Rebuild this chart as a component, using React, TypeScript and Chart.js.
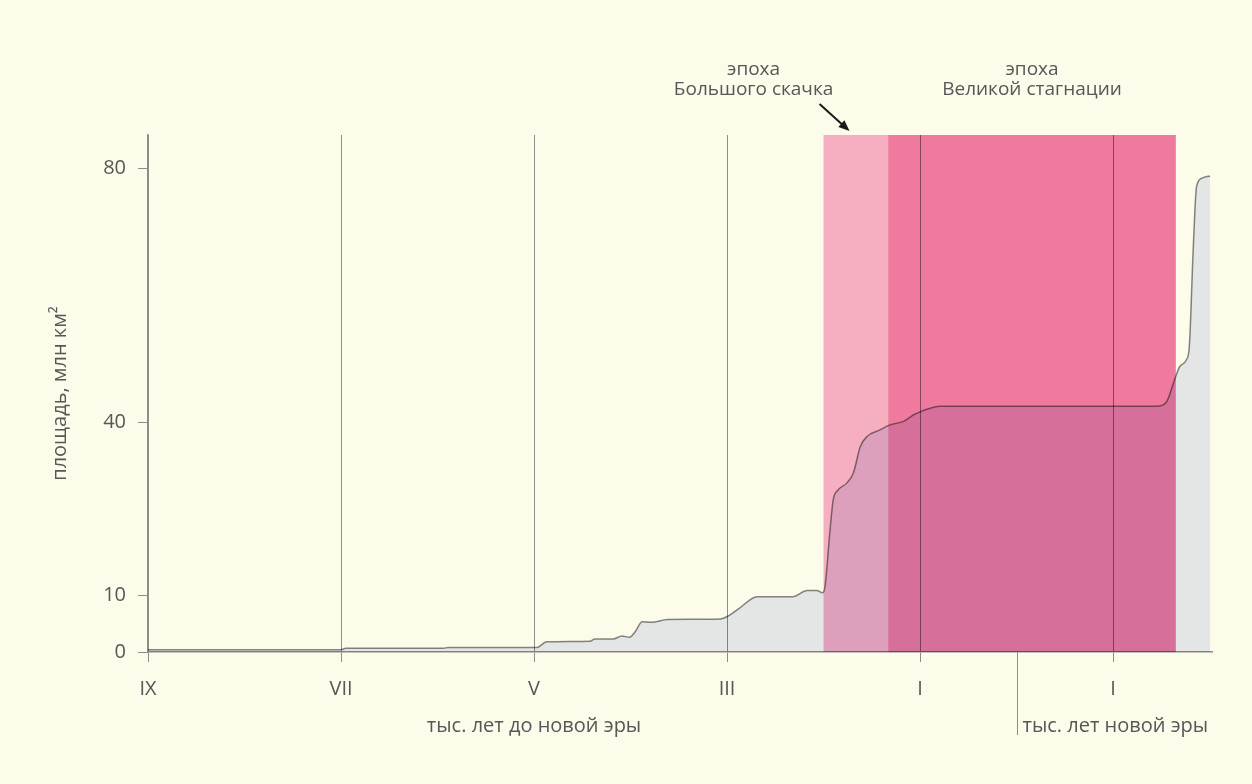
import React, { useEffect, useRef } from 'react';
import { Chart, registerables, LinearScale } from 'chart.js';

// ---- data ----
const tickYears = [-9000, -7000, -5000, -3000, -1000, 1000];
const tickLabels = ['IX', 'VII', 'V', 'III', 'I', 'I'];
const yTicks = [0, 10, 40, 80];

const years = [
  -9000, -7000, -6950, -6880, -5940, -5890, -4970, -4870, -4420, -4370, -4180,
  -4090, -4010, -3950, -3880, -3780, -3620, -3070, -2990, -2870, -2690, -2320,
  -2170, -2070, -2010, -1985, -1930, -1900, -1850, -1760, -1690, -1620, -1550,
  -1420, -1310, -1170, -1070, -1000, -930, -790, 1450, 1555, 1625, 1690, 1760,
  1790, 1830, 1865, 1920, 1985, 2005,
];
const areas = [
  0.4, 0.4, 0.65, 0.65, 0.65, 0.8, 0.8, 1.8, 1.9, 2.3, 2.3,
  2.8, 2.6, 3.6, 5.3, 5.2, 5.7, 5.8, 6.3, 7.7, 9.7, 9.7,
  10.8, 10.8, 10.4, 11.5, 21.8, 26.5, 28.2, 29.4, 31.2, 35.7, 37.5,
  38.6, 39.5, 40.1, 41.1, 41.6, 42.0, 42.5, 42.5, 43.2, 46.1, 48.7, 49.8,
  51.9, 67.1, 77.1, 78.4, 78.7, 78.7,
];

const epochStart = [-2000, -1330];
const epochEnd = [-1330, 1650];
const epochColors = ['rgb(248,178,210)', 'rgb(241,124,172)'];
const epochNames = [
  ['эпоха', 'Большого скачка'],
  ['эпоха', 'Великой стагнации'],
];
const eraDivider = 0;
const xTitles = ['тыс. лет до новой эры', 'тыс. лет новой эры'];
const yTitle = 'площадь, млн км²';

// ---- style ----
const BG = '#fdfbe9';
const GRID = '#8c8c88';
const TEXT = '#575757';
const FONT = "'Open Sans', sans-serif";
const Y_MAX = 85.2;
// piecewise vertical mapping of the original artwork: [value, fraction of height]
const Y_KNOTS: number[][] = [
  [0, 0],
  [10, 57 / 517],
  [40, 230 / 517],
  [80, 484 / 517],
  [Y_MAX, 1],
];

function interp(k: number[][], v: number, a: number, b: number) {
  let i = 0;
  while (i < k.length - 2 && v > k[i + 1][a]) i++;
  const p = k[i], q = k[i + 1];
  return p[b] + ((v - p[a]) * (q[b] - p[b])) / (q[a] - p[a]);
}

class PiecewiseScale extends LinearScale {
  static id = 'piecewise';
  static defaults = {};
  getPixelForValue(value: any) {
    if (value === null || value === undefined || isNaN(value)) return NaN;
    return this.getPixelForDecimal(interp(Y_KNOTS, +value, 0, 1));
  }
  getValueForPixel(pixel: number) {
    return interp(Y_KNOTS, this.getDecimalForPixel(pixel), 1, 0);
  }
}

Chart.register(...registerables);
Chart.register(PiecewiseScale as any);

const decoPlugin = {
  id: 'deco',
  beforeDraw(chart: any) {
    const ctx = chart.ctx;
    ctx.save();
    ctx.fillStyle = BG;
    ctx.fillRect(0, 0, chart.width, chart.height);
    ctx.restore();
  },
  beforeDatasetsDraw(chart: any) {
    const { ctx, chartArea, scales } = chart;
    const x = scales.x;
    ctx.save();
    ctx.globalCompositeOperation = 'multiply';
    epochStart.forEach((s, i) => {
      const x0 = x.getPixelForValue(s);
      const x1 = x.getPixelForValue(epochEnd[i]);
      ctx.fillStyle = epochColors[i];
      ctx.fillRect(x0, chartArea.top, x1 - x0, chartArea.bottom - chartArea.top);
    });
    // keep multiply blending while datasets are drawn
  },
  afterDatasetsDraw(chart: any) {
    chart.ctx.restore();
  },
  afterDraw(chart: any) {
    const { ctx, chartArea, scales } = chart;
    const x = scales.x;
    ctx.save();
    // era divider
    const xd = Math.round(x.getPixelForValue(eraDivider)) + 0.5;
    ctx.strokeStyle = GRID;
    ctx.lineWidth = 1;
    ctx.beginPath();
    ctx.moveTo(xd, chartArea.bottom);
    ctx.lineTo(xd, chartArea.bottom + 83);
    ctx.stroke();

    ctx.fillStyle = TEXT;
    ctx.font = `20px ${FONT}`;
    ctx.textBaseline = 'middle';
    ctx.textAlign = 'center';
    ctx.fillText(xTitles[0], x.getPixelForValue(-5000), chartArea.bottom + 74);
    ctx.textAlign = 'left';
    ctx.fillText(xTitles[1], xd + 5, chartArea.bottom + 74);

    // y title
    ctx.save();
    ctx.translate(60, (chartArea.top + chartArea.bottom) / 2);
    ctx.rotate(-Math.PI / 2);
    ctx.textAlign = 'center';
    ctx.fillText(yTitle, 0, 0);
    ctx.restore();

    // epoch annotations
    ctx.font = `19px ${FONT}`;
    const a0 = x.getPixelForValue(epochStart[0]);
    const c0 = a0 - 70;
    const c1 = (x.getPixelForValue(epochStart[1]) + x.getPixelForValue(epochEnd[1])) / 2;
    ctx.textAlign = 'center';
    [c0, c1].forEach((cx, i) => {
      ctx.fillText(epochNames[i][0], cx, chartArea.top - 65);
      ctx.fillText(epochNames[i][1], cx, chartArea.top - 45);
    });

    // arrow
    const tx = a0 - 4, ty = chartArea.top - 31;
    const hx = a0 + 26, hy = chartArea.top - 4;
    const ang = Math.atan2(hy - ty, hx - tx);
    ctx.strokeStyle = '#1a1a1a';
    ctx.fillStyle = '#1a1a1a';
    ctx.lineWidth = 2;
    ctx.beginPath();
    ctx.moveTo(tx, ty);
    ctx.lineTo(hx - 8 * Math.cos(ang), hy - 8 * Math.sin(ang));
    ctx.stroke();
    ctx.beginPath();
    ctx.moveTo(hx, hy);
    ctx.lineTo(hx - 11 * Math.cos(ang) + 4.5 * Math.sin(ang), hy - 11 * Math.sin(ang) - 4.5 * Math.cos(ang));
    ctx.lineTo(hx - 11 * Math.cos(ang) - 4.5 * Math.sin(ang), hy - 11 * Math.sin(ang) + 4.5 * Math.cos(ang));
    ctx.closePath();
    ctx.fill();
    ctx.restore();
  },
};

export default function App() {
  const ref = useRef<HTMLCanvasElement>(null);
  useEffect(() => {
    document.body.style.margin = '0';
    document.body.style.background = BG;
    Chart.defaults.font.family = FONT;
    const chart = new Chart(ref.current as HTMLCanvasElement, {
      type: 'line',
      data: {
        datasets: [
          {
            data: years.map((y, i) => ({ x: y, y: areas[i] })),
            borderColor: '#8a8a8a',
            borderWidth: 1.5,
            backgroundColor: 'rgb(229,234,250)',
            fill: 'origin',
            pointRadius: 0,
            cubicInterpolationMode: 'monotone',
          },
        ],
      },
      options: {
        animation: false,
        responsive: true,
        maintainAspectRatio: false,
        layout: { padding: { top: 135, right: 40, left: 0, bottom: 0 } },
        plugins: { legend: { display: false }, tooltip: { enabled: false } },
        scales: {
          x: {
            type: 'linear',
            min: -9000,
            max: 2025,
            afterFit: (s: any) => { s.height = 132; },
            afterBuildTicks: (s: any) => { s.ticks = tickYears.map((v) => ({ value: v })); },
            grid: { color: GRID, lineWidth: 1, tickLength: 10, drawOnChartArea: true },
            border: { display: true, color: GRID, width: 1.5 },
            ticks: {
              autoSkip: false,
              maxRotation: 0,
              padding: 15,
              color: TEXT,
              font: { size: 20, family: FONT },
              callback: (v: any) => tickLabels[tickYears.indexOf(v)],
            },
          },
          y: {
            type: 'piecewise' as any,
            min: 0,
            max: Y_MAX,
            afterFit: (s: any) => { s.width = 148; },
            afterBuildTicks: (s: any) => { s.ticks = yTicks.map((v) => ({ value: v })); },
            grid: { color: GRID, lineWidth: 1, tickLength: 10, drawOnChartArea: false },
            border: { display: true, color: GRID, width: 1.5 },
            ticks: {
              padding: 12,
              color: TEXT,
              font: { size: 20, family: FONT },
              callback: (v: any) => String(v),
            },
          },
        },
      },
      plugins: [decoPlugin],
    } as any);
    return () => chart.destroy();
  }, []);
  return (
    <div style={{ position: 'relative', width: 1252, height: 784 }}>
      <canvas ref={ref} />
    </div>
  );
}
